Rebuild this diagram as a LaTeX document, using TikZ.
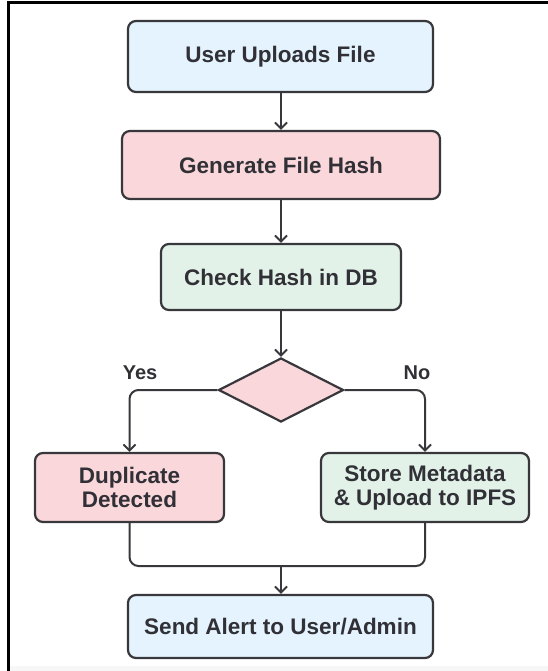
\documentclass[tikz,border=0pt]{standalone}
\usepackage{fontspec}
\setmainfont{Liberation Sans}
\usetikzlibrary{arrows.meta,shapes.geometric}

\definecolor{edge}{HTML}{38383C}
\definecolor{ink}{HTML}{303036}
\definecolor{fillblue}{HTML}{E4F3FD}
\definecolor{fillpink}{HTML}{F9D7DA}
\definecolor{fillgreen}{HTML}{E3F2E8}

\tikzset{
  stepbox/.style={draw=edge, line width=2.2pt, rounded corners=8pt,
    inner sep=0pt, align=center, text=ink,
    font=\bfseries\fontsize{22.5}{24}\selectfont},
  decision/.style={diamond, draw=edge, line width=2.2pt, fill=fillpink,
    inner sep=0pt, minimum width=125pt, minimum height=64pt},
  tip/.style={-{Straight Barb[length=6pt,width=12pt,line width=2pt]}},
  flow/.style={draw=edge, line width=2pt, tip},
  link/.style={draw=edge, line width=2pt, rounded corners=9pt},
  branch/.style={text=ink, font=\bfseries\fontsize{20}{22}\selectfont}
}

\begin{document}
\begin{tikzpicture}[x=1pt,y=-1pt]
  \useasboundingbox (0,0) rectangle (548,671);
  % frame: top and left rules
  \draw[line width=3pt, black] (548,3) -- (8,3) -- (8,671);
  \fill[black!3] (9.5,666) rectangle (548,671);

  \node[stepbox, fill=fillblue, minimum width=305pt, minimum height=71pt]
    (upload) at (280.5,56.5) {User Uploads File};
  \node[stepbox, fill=fillpink, minimum width=318pt, minimum height=68pt]
    (hash) at (281,165) {Generate File Hash};
  \node[stepbox, fill=fillgreen, minimum width=240pt, minimum height=66pt]
    (check) at (281,277) {Check Hash in DB};
  \node[decision] (dec) at (281,390) {};
  \node[stepbox, fill=fillpink, minimum width=189pt, minimum height=69pt]
    (dup) at (129.5,487.5) {Duplicate\\Detected};
  \node[stepbox, fill=fillgreen, minimum width=208pt, minimum height=69pt]
    (store) at (425,487.5) {Store Metadata\\\& Upload to IPFS};
  \node[stepbox, fill=fillblue, minimum width=305pt, minimum height=63pt]
    (alert) at (280.5,626.5) {Send Alert to User/Admin};

  \node[branch] (yes) at (140,373) {Yes};
  \node[branch] (no) at (417,373) {No};

  \coordinate (join) at (281,566);

  \draw[flow] (upload.south -| hash.north) -- (hash.north);
  \draw[flow] (hash) -- (check);
  \draw[flow] (check) -- (dec);
  \draw[link, tip] (dec.west) -| (dup.north);
  \draw[link, tip] (dec.east) -| (store.north);
  \draw[link] (dup.south) |- (join) -| (store.south);
  \draw[flow] (join) -- (alert.north -| join);
\end{tikzpicture}
\end{document}
